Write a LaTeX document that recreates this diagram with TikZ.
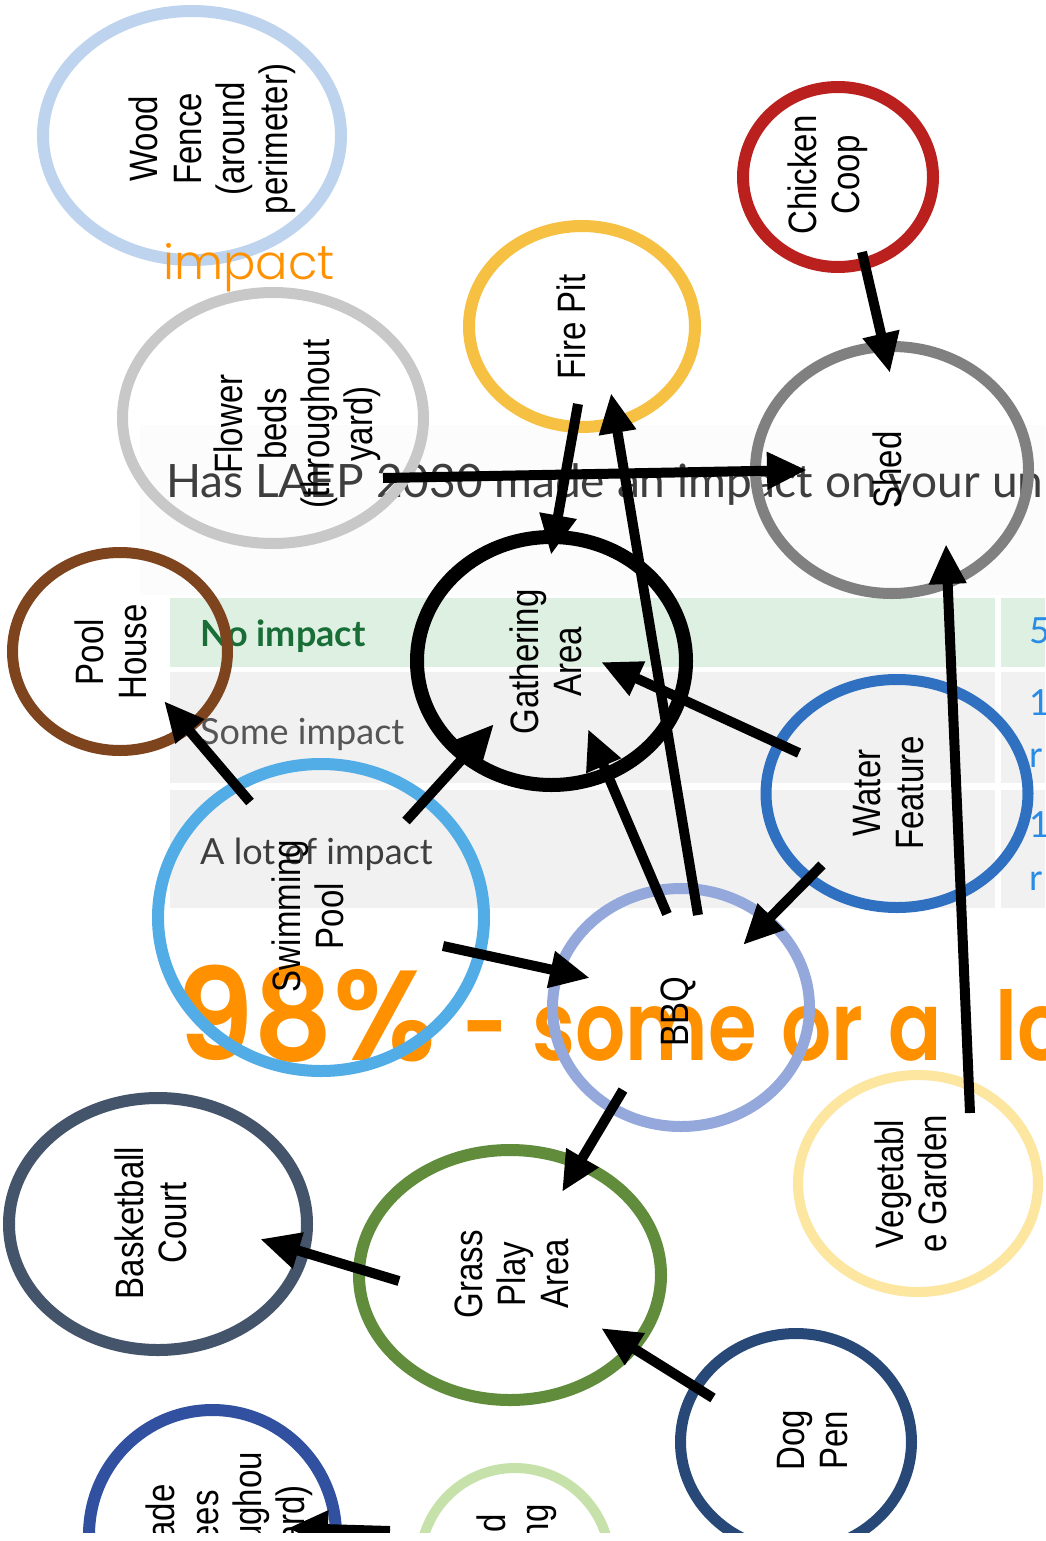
\documentclass[tikz,border=0pt]{standalone}
\usepackage{fontspec}
\setmainfont{Liberation Sans}
\newfontfamily\lblfont{Liberation Sans}
\newfontfamily\lato{Lato}
\newfontfamily\pop{Poppins}
\IfFontExistsTF{Poppins SemiBold}{\newfontfamily\popsb{Poppins SemiBold}}{\newfontfamily\popsb{Poppins}}
\IfFontExistsTF{Poppins Light}{\newfontfamily\popl{Poppins Light}}{\newfontfamily\popl{Poppins}}
\usetikzlibrary{arrows.meta,shapes.geometric}
\definecolor{cfence}{RGB}{190,212,238}
\definecolor{ccoop}{RGB}{185,32,30}
\definecolor{cfire}{RGB}{246,192,66}
\definecolor{cflower}{RGB}{200,200,200}
\definecolor{cshed}{RGB}{128,128,128}
\definecolor{cpoolh}{RGB}{125,68,30}
\definecolor{cwater}{RGB}{48,112,192}
\definecolor{cswim}{RGB}{82,172,230}
\definecolor{cbbq}{RGB}{148,168,220}
\definecolor{cveg}{RGB}{252,230,160}
\definecolor{ccourt}{RGB}{68,84,106}
\definecolor{cgrass}{RGB}{96,140,60}
\definecolor{cdog}{RGB}{40,72,120}
\definecolor{cshade}{RGB}{50,80,160}
\definecolor{clgreen}{RGB}{198,226,170}
\definecolor{corange}{RGB}{255,145,0}
\definecolor{rowgreen}{RGB}{222,240,226}
\definecolor{rowgray}{RGB}{241,241,241}
\definecolor{faintbg}{RGB}{252,252,252}
\definecolor{titlegray}{RGB}{62,62,62}
\definecolor{cellgray}{RGB}{85,85,85}
\definecolor{noimp}{RGB}{25,110,55}
\definecolor{numblue}{RGB}{40,140,230}
\newcommand\stretchlbl[1]{\scalebox{1}[1.2]{\begin{tabular}{@{}c@{}}#1\end{tabular}}}
\tikzset{
  ring/.style={ellipse, draw=#1, line width=12pt, inner sep=0pt},
  lbl/.style={rotate=90, inner sep=0pt, font=\lblfont\fontsize{33}{36}\selectfont},
  arr/.style={line width=10pt, -{Triangle[length=40pt,width=35pt]}},
  celltext/.style={anchor=base west, inner sep=0pt, font=\lato\fontsize{36}{36}\selectfont},
  numtext/.style={anchor=base west, inner sep=0pt, text=numblue, font=\lato\fontsize{36}{36}\selectfont},
}
\begin{document}
\begin{tikzpicture}[x=1pt,y=-1pt]
\useasboundingbox (0,0) rectangle (1045,1541);
\fill[white] (0,0) rectangle (1045,1541);
\begin{scope}
\clip (0,0) rectangle (1045,1532);
% faded table screenshot
\fill[faintbg] (140,425) rectangle (1045,595);
\fill[rowgreen] (170,598) rectangle (995,667);
\fill[rowgreen] (1001,598) rectangle (1045,667);
\fill[rowgray] (170,672) rectangle (995,783);
\fill[rowgray] (1001,672) rectangle (1045,783);
\fill[rowgray] (170,790) rectangle (995,908);
\fill[rowgray] (1001,790) rectangle (1045,908);
\node[anchor=base west, inner sep=0pt, text=titlegray, font=\lato\fontsize{46}{46}\selectfont] (title) at (166,497) {Has LAEP 2030 made an impact on your un};
\node[celltext, text=noimp, font=\lato\bfseries\fontsize{36}{36}\selectfont] (t1) at (200,646) {No impact};
\node[celltext, text=cellgray] (t2) at (200,744) {Some impact};
\node[celltext, text=titlegray] (t3) at (200,864) {A lot of impact};
\node[numtext] (n1) at (1029,643) {5};
\node[numtext] (n2) at (1029,715) {1};
\node[numtext] (n3) at (1029,767) {r};
\node[numtext] (n4) at (1029,837) {1};
\node[numtext] (n5) at (1029,890) {r};
% big orange statement
\node[anchor=base west, inner sep=0pt, text=corange, font=\popsb\fontsize{128}{128}\selectfont] (pct) at (176,1060) {\scalebox{0.97}[1]{98\%}};
\node[anchor=base west, inner sep=0pt, text=corange, font=\popsb\fontsize{96}{96}\selectfont] (rest) at (462,1060) {\scalebox{0.82}[1]{\spaceskip=30pt\relax - some or a\hspace{36pt} lot}};
% rings
\node[ring=cfence, minimum width=298pt, minimum height=249pt] (fence) at (192,135.5) {};
\node[ring=ccoop, minimum width=190pt, minimum height=180pt] (coop) at (838,177) {};
\node[ring=cfire, minimum width=226pt, minimum height=201pt] (firepit) at (582,326.5) {};
\node[ring=cflower, line width=11pt, minimum width=301pt, minimum height=251pt] (flower) at (273,418) {};
\node[ring=cshed, line width=11pt, minimum width=273pt, minimum height=247pt] (shed) at (892,470) {};
\node[ring=cpoolh, line width=11pt, minimum width=215pt, minimum height=198pt] (poolhouse) at (120,651.5) {};
\node[ring=black, line width=14pt, minimum width=269pt, minimum height=248pt] (gather) at (551.5,661) {};
\node[ring=cwater, line width=11pt, minimum width=262pt, minimum height=228pt] (water) at (897,793.5) {};
\node[ring=cswim, minimum width=326pt, minimum height=307pt] (swim) at (321,917.5) {};
\node[ring=cbbq, line width=11pt, minimum width=257pt, minimum height=238pt] (bbq) at (681,1007.5) {};
\node[ring=cveg, line width=10pt, minimum width=240pt, minimum height=217pt] (veg) at (918,1183.5) {};
\node[ring=ccourt, minimum width=298pt, minimum height=252pt] (court) at (158,1224) {};
\node[ring=cgrass, minimum width=302pt, minimum height=250pt] (grass) at (510,1275) {};
\node[ring=cdog, line width=11pt, minimum width=231pt, minimum height=217pt] (dog) at (796,1442) {};
\node[ring=cshade, minimum width=247pt, minimum height=250pt] (shade) at (212.5,1535) {};
\node[ring=clgreen, line width=10pt, minimum width=190pt, minimum height=190pt] (lgreen) at (515,1563) {};
% orange "impact"
\node[anchor=base west, inner sep=0pt, text=corange, font=\popl\fontsize{48}{48}\selectfont] (imp) at (163,279) {impact};
% labels
\node[lbl] (fence-l) at (214,139) {\stretchlbl{Wood\\Fence\\(around\\perimeter)}};
\node[lbl] (coop-l) at (829,175) {\stretchlbl{Chicken\\Coop}};
\node[lbl] (firepit-l) at (577,327) {\stretchlbl{Fire Pit}};
\node[lbl] (flower-l) at (299,424) {\stretchlbl{Flower\\beds\\(throughout\\yard)}};
\node[lbl] (shed-l) at (893,470) {\stretchlbl{Shed}};
\node[lbl] (poolhouse-l) at (116,652) {\stretchlbl{Pool\\House}};
\node[lbl] (gather-l) at (551,662) {\stretchlbl{Gathering\\Area}};
\node[lbl] (water-l) at (893,793) {\stretchlbl{Water\\Feature}};
\node[lbl] (swim-l) at (313,916) {\stretchlbl{Swimming\\Pool}};
\node[lbl] (bbq-l) at (680,1012) {\stretchlbl{BBQ}};
\node[lbl] (veg-l) at (916,1184) {\stretchlbl{Vegetabl\\e Garden}};
\node[lbl] (court-l) at (156,1223) {\stretchlbl{Basketball\\Court}};
\node[lbl] (grass-l) at (517,1274) {\stretchlbl{Grass\\Play\\Area}};
\node[lbl] (dog-l) at (817,1440) {\stretchlbl{Dog\\Pen}};
\node[lbl] (shade-l) at (231,1532) {\stretchlbl{Shade\\Trees\\(throughou\\t yard)}};
\node[lbl] (lgreen-l) at (518,1565) {\stretchlbl{Raised\\Bedding}};
% arrows
\draw[arr] ([shift={(24,75)}]coop.center) -- ([shift={(-2,-97)}]shed.center);
\draw[arr] ([shift={(110,60)}]flower.center) -- ([shift={(-85,0)}]shed.center);
\draw[arr] ([shift={(-4,77.5)}]firepit.center) -- ([shift={(-0.5,-106)}]gather.center);
\draw[arr] ([shift={(17,-92.5)}]bbq.center) -- ([shift={(29,66.5)}]firepit.center);
\draw[arr] ([shift={(-14,-93.5)}]bbq.center) -- ([shift={(36.5,68)}]gather.center);
\draw[arr] ([shift={(-98,-40.5)}]water.center) -- ([shift={(49.5,1)}]gather.center);
\draw[arr] ([shift={(85,-96.5)}]swim.center) -- ([shift={(-57.5,63)}]gather.center);
\draw[arr] ([shift={(-71,-115.5)}]swim.center) -- ([shift={(44,49.5)}]poolhouse.center);
\draw[arr] ([shift={(122,28.5)}]swim.center) -- ([shift={(-91,-29.5)}]bbq.center);
\draw[arr] ([shift={(-75,71.5)}]water.center) -- ([shift={(62,-62.5)}]bbq.center);
\draw[arr] ([shift={(52,-70.5)}]veg.center) -- ([shift={(54,74)}]shed.center);
\draw[arr] ([shift={(-58,82.5)}]bbq.center) -- ([shift={(52,-83)}]grass.center);
\draw[arr] ([shift={(-111,6)}]grass.center) -- ([shift={(102,15)}]court.center);
\draw[arr] ([shift={(-83,-44)}]dog.center) -- ([shift={(91,53)}]grass.center);
\draw[arr] ([shift={(-125,-32)}]lgreen.center) -- ([shift={(75.5,-7)}]shade.center);
\end{scope}
\end{tikzpicture}
\end{document}
